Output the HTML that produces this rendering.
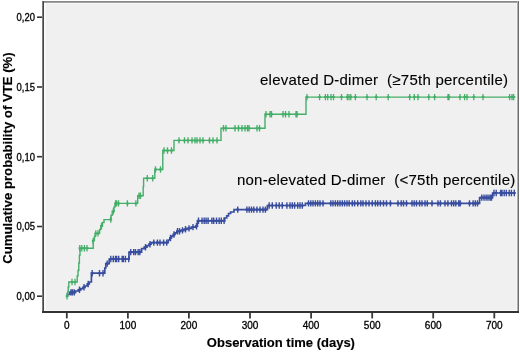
<!DOCTYPE html>
<html><head><meta charset="utf-8"><style>
html,body{margin:0;padding:0;background:#fff;width:520px;height:352px;overflow:hidden}
svg{display:block;will-change:transform;font-family:"Liberation Sans",sans-serif;fill:#111}
text{fill:#000;stroke:#000;stroke-width:0.3px}
.lg{stroke-width:0.12px}
.b{stroke-width:0.15px}
</style></head><body>
<svg width="520" height="352" viewBox="0 0 520 352"><rect x="0" y="0" width="520" height="352" fill="#ffffff"/><g shape-rendering="crispEdges"><rect x="44" y="3" width="473" height="308" fill="#f8f8f8"/><rect x="46" y="4" width="470" height="306" fill="#f0f0f0"/><rect x="42" y="1" width="477" height="1" fill="#8a8a8a"/><rect x="42" y="2" width="477" height="1" fill="#a0a0a0"/><rect x="517" y="1" width="1" height="312" fill="#adadad"/><rect x="518" y="1" width="1" height="312" fill="#6e6e6e"/><rect x="42" y="1" width="1" height="312" fill="#7a7a7a"/><rect x="43" y="1" width="1" height="312" fill="#484848"/><rect x="42" y="311" width="477" height="2" fill="#333333"/></g><path d="M37,296.2 H42" stroke="#333" stroke-width="1.6"/><path d="M37,226.5 H42" stroke="#333" stroke-width="1.6"/><path d="M37,156.7 H42" stroke="#333" stroke-width="1.6"/><path d="M37,87.0 H42" stroke="#333" stroke-width="1.6"/><path d="M37,17.2 H42" stroke="#333" stroke-width="1.6"/><path d="M66.8,313 V318.4" stroke="#3a3a3a" stroke-width="1.8"/><path d="M127.9,313 V318.4" stroke="#3a3a3a" stroke-width="1.8"/><path d="M188.9,313 V318.4" stroke="#3a3a3a" stroke-width="1.8"/><path d="M250.0,313 V318.4" stroke="#3a3a3a" stroke-width="1.8"/><path d="M311.1,313 V318.4" stroke="#3a3a3a" stroke-width="1.8"/><path d="M372.2,313 V318.4" stroke="#3a3a3a" stroke-width="1.8"/><path d="M433.2,313 V318.4" stroke="#3a3a3a" stroke-width="1.8"/><path d="M494.3,313 V318.4" stroke="#3a3a3a" stroke-width="1.8"/><text x="35" y="300.1" text-anchor="end" font-size="10" textLength="18.4" lengthAdjust="spacingAndGlyphs">0,00</text><text x="35" y="230.4" text-anchor="end" font-size="10" textLength="18.4" lengthAdjust="spacingAndGlyphs">0,05</text><text x="35" y="160.6" text-anchor="end" font-size="10" textLength="18.4" lengthAdjust="spacingAndGlyphs">0,10</text><text x="35" y="90.9" text-anchor="end" font-size="10" textLength="18.4" lengthAdjust="spacingAndGlyphs">0,15</text><text x="35" y="21.1" text-anchor="end" font-size="10" textLength="18.4" lengthAdjust="spacingAndGlyphs">0,20</text><text x="66.8" y="328.8" text-anchor="middle" font-size="10">0</text><text x="127.9" y="328.8" text-anchor="middle" font-size="10">100</text><text x="188.9" y="328.8" text-anchor="middle" font-size="10">200</text><text x="250.0" y="328.8" text-anchor="middle" font-size="10">300</text><text x="311.1" y="328.8" text-anchor="middle" font-size="10">400</text><text x="372.2" y="328.8" text-anchor="middle" font-size="10">500</text><text x="433.2" y="328.8" text-anchor="middle" font-size="10">600</text><text x="494.3" y="328.8" text-anchor="middle" font-size="10">700</text><text class="b" x="280.9" y="347.4" text-anchor="middle" font-size="13" font-weight="bold">Observation time (days)</text><text class="b" transform="translate(11.7,158) rotate(-90)" x="0" y="0" text-anchor="middle" font-size="13.2" font-weight="bold" textLength="211.5" lengthAdjust="spacing">Cumulative probability of VTE (%)</text><text class="lg" x="260" y="85.4" font-size="15" textLength="248" lengthAdjust="spacing" xml:space="preserve">elevated D-dimer  (≥75th percentile)</text><text class="lg" x="237" y="185.3" font-size="15" textLength="278.2" lengthAdjust="spacing" xml:space="preserve">non-elevated D-dimer  (&lt;75th percentile)</text><path d="M66.6,296.2 L67.4,296.2 L67.4,294.5 L69.7,294.5 L69.7,292.4 L75.6,292.4 L75.6,291.0 L78.2,291.0 L78.2,289.8 L80.8,289.8 L80.8,288.6 L83.0,288.6 L83.0,287.3 L85.0,287.3 L85.0,286.0 L87.2,286.0 L87.2,284.0 L89.3,284.0 L89.3,282.0 L91.4,282.0 L91.4,273.2 L104.8,273.2 L104.8,268.0 L105.8,268.0 L105.8,263.6 L109.2,263.6 L109.2,259.0 L129.0,259.0 L129.0,252.1 L141.6,252.1 L141.6,248.6 L144.2,248.6 L144.2,247.2 L147.0,247.2 L147.0,245.6 L149.0,245.6 L149.0,244.2 L151.0,244.2 L151.0,242.6 L168.2,242.6 L168.2,240.0 L169.9,240.0 L169.9,238.0 L171.5,238.0 L171.5,236.2 L173.3,236.2 L173.3,234.5 L175.0,234.5 L175.0,232.8 L176.8,232.8 L176.8,231.3 L180.5,231.3 L180.5,230.4 L184.0,230.4 L184.0,229.3 L187.0,229.3 L187.0,228.4 L191.4,228.4 L191.4,227.1 L195.6,227.1 L195.6,226.2 L197.4,226.2 L197.4,220.8 L224.6,220.8 L224.6,218.0 L226.7,218.0 L226.7,215.8 L228.5,215.8 L228.5,213.5 L230.6,213.5 L230.6,212.0 L234.0,212.0 L234.0,209.6 L267.4,209.6 L267.4,205.5 L305.4,205.5 L305.4,203.4 L479.6,203.4 L479.6,197.6 L492.6,197.6 L492.6,193.0 L515.5,193.0" fill="none" stroke="#384d9f" stroke-width="1.7"/><path d="M71.0,289.2v6.4M74.3,289.2v6.4M110.8,255.8v6.4M113.3,255.8v6.4M115.5,255.8v6.4M116.7,255.8v6.4M118.7,255.8v6.4M122.2,255.8v6.4M123.3,255.8v6.4M125.4,255.8v6.4M128.7,255.8v6.4M130.7,248.9v6.4M133.7,248.9v6.4M135.5,248.9v6.4M138.2,248.9v6.4M139.8,248.9v6.4M153.8,239.4v6.4M157.4,239.4v6.4M160.0,239.4v6.4M163.6,239.4v6.4M166.7,239.4v6.4M170.5,234.8v6.4M174.0,231.3v6.4M177.5,228.1v6.4M179.5,228.1v6.4M182.5,227.2v6.4M185.5,226.1v6.4M189.0,225.2v6.4M193.0,223.9v6.4M196.5,223.0v6.4M145.5,244.0v6.4M150.0,241.0v6.4M198.5,217.6v6.4M202.0,217.6v6.4M204.2,217.6v6.4M206.1,217.6v6.4M208.1,217.6v6.4M211.9,217.6v6.4M213.7,217.6v6.4M216.5,217.6v6.4M219.2,217.6v6.4M221.3,217.6v6.4M224.1,217.6v6.4M237.7,206.4v6.4M246.9,206.4v6.4M249.2,206.4v6.4M251.5,206.4v6.4M253.8,206.4v6.4M256.9,206.4v6.4M260.0,206.4v6.4M263.0,206.4v6.4M265.4,206.4v6.4M269.2,202.3v6.4M272.3,202.3v6.4M276.2,202.3v6.4M279.2,202.3v6.4M282.3,202.3v6.4M286.9,202.3v6.4M290.0,202.3v6.4M292.3,202.3v6.4M294.6,202.3v6.4M297.7,202.3v6.4M300.0,202.3v6.4M302.3,202.3v6.4M308.5,200.2v6.4M310.8,200.2v6.4M313.0,200.2v6.4M315.4,200.2v6.4M317.7,200.2v6.4M320.0,200.2v6.4M323.0,200.2v6.4M330.8,200.2v6.4M333.0,200.2v6.4M335.4,200.2v6.4M337.7,200.2v6.4M340.0,200.2v6.4M342.3,200.2v6.4M344.6,200.2v6.4M347.0,200.2v6.4M349.2,200.2v6.4M352.3,200.2v6.4M354.6,200.2v6.4M357.7,200.2v6.4M360.8,200.2v6.4M363.0,200.2v6.4M366.0,200.2v6.4M369.0,200.2v6.4M372.3,200.2v6.4M375.4,200.2v6.4M377.7,200.2v6.4M380.4,200.2v6.4M383.5,200.2v6.4M386.5,200.2v6.4M390.4,200.2v6.4M398.0,200.2v6.4M401.2,200.2v6.4M403.5,200.2v6.4M406.5,200.2v6.4M412.0,200.2v6.4M414.2,200.2v6.4M416.5,200.2v6.4M419.6,200.2v6.4M422.0,200.2v6.4M425.0,200.2v6.4M427.3,200.2v6.4M432.0,200.2v6.4M438.0,200.2v6.4M440.4,200.2v6.4M445.0,200.2v6.4M447.9,200.2v6.4M451.5,200.2v6.4M453.7,200.2v6.4M455.8,200.2v6.4M458.7,200.2v6.4M460.2,200.2v6.4M469.5,200.2v6.4M473.1,200.2v6.4M475.3,200.2v6.4M477.5,200.2v6.4M481.8,194.4v6.4M484.0,194.4v6.4M486.1,194.4v6.4M488.0,194.4v6.4M490.0,194.4v6.4M491.5,194.4v6.4M494.0,189.8v6.4M496.2,189.8v6.4M500.6,189.8v6.4M502.0,189.8v6.4M504.2,189.8v6.4M506.3,189.8v6.4M509.2,189.8v6.4M511.4,189.8v6.4M514.3,189.8v6.4M72.5,289.2v6.4M79.5,286.6v6.4M84.0,284.1v6.4M88.2,280.8v6.4M92.2,270.0v6.4M99.5,270.0v6.4M103.0,270.0v6.4M107.2,260.4v6.4" fill="none" stroke="#384d9f" stroke-width="1.4"/><path d="M69.7,292.4h2.6M73.0,292.4h2.6M109.5,259.0h2.6M112.0,259.0h2.6M114.2,259.0h2.6M115.4,259.0h2.6M117.4,259.0h2.6M120.9,259.0h2.6M122.0,259.0h2.6M124.1,259.0h2.6M127.4,259.0h2.6M129.4,252.1h2.6M132.4,252.1h2.6M134.2,252.1h2.6M136.9,252.1h2.6M138.5,252.1h2.6M152.5,242.6h2.6M156.1,242.6h2.6M158.7,242.6h2.6M162.3,242.6h2.6M165.4,242.6h2.6M169.2,238.0h2.6M172.7,234.5h2.6M176.2,231.3h2.6M178.2,231.3h2.6M181.2,230.4h2.6M184.2,229.3h2.6M187.7,228.4h2.6M191.7,227.1h2.6M195.2,226.2h2.6M144.2,247.2h2.6M148.7,244.2h2.6M197.2,220.8h2.6M200.7,220.8h2.6M202.9,220.8h2.6M204.8,220.8h2.6M206.8,220.8h2.6M210.6,220.8h2.6M212.4,220.8h2.6M215.2,220.8h2.6M217.9,220.8h2.6M220.0,220.8h2.6M222.8,220.8h2.6M236.4,209.6h2.6M245.6,209.6h2.6M247.9,209.6h2.6M250.2,209.6h2.6M252.5,209.6h2.6M255.6,209.6h2.6M258.7,209.6h2.6M261.7,209.6h2.6M264.1,209.6h2.6M267.9,205.5h2.6M271.0,205.5h2.6M274.9,205.5h2.6M277.9,205.5h2.6M281.0,205.5h2.6M285.6,205.5h2.6M288.7,205.5h2.6M291.0,205.5h2.6M293.3,205.5h2.6M296.4,205.5h2.6M298.7,205.5h2.6M301.0,205.5h2.6M307.2,203.4h2.6M309.5,203.4h2.6M311.7,203.4h2.6M314.1,203.4h2.6M316.4,203.4h2.6M318.7,203.4h2.6M321.7,203.4h2.6M329.5,203.4h2.6M331.7,203.4h2.6M334.1,203.4h2.6M336.4,203.4h2.6M338.7,203.4h2.6M341.0,203.4h2.6M343.3,203.4h2.6M345.7,203.4h2.6M347.9,203.4h2.6M351.0,203.4h2.6M353.3,203.4h2.6M356.4,203.4h2.6M359.5,203.4h2.6M361.7,203.4h2.6M364.7,203.4h2.6M367.7,203.4h2.6M371.0,203.4h2.6M374.1,203.4h2.6M376.4,203.4h2.6M379.1,203.4h2.6M382.2,203.4h2.6M385.2,203.4h2.6M389.1,203.4h2.6M396.7,203.4h2.6M399.9,203.4h2.6M402.2,203.4h2.6M405.2,203.4h2.6M410.7,203.4h2.6M412.9,203.4h2.6M415.2,203.4h2.6M418.3,203.4h2.6M420.7,203.4h2.6M423.7,203.4h2.6M426.0,203.4h2.6M430.7,203.4h2.6M436.7,203.4h2.6M439.1,203.4h2.6M443.7,203.4h2.6M446.6,203.4h2.6M450.2,203.4h2.6M452.4,203.4h2.6M454.5,203.4h2.6M457.4,203.4h2.6M458.9,203.4h2.6M468.2,203.4h2.6M471.8,203.4h2.6M474.0,203.4h2.6M476.2,203.4h2.6M480.5,197.6h2.6M482.7,197.6h2.6M484.8,197.6h2.6M486.7,197.6h2.6M488.7,197.6h2.6M490.2,197.6h2.6M492.7,193.0h2.6M494.9,193.0h2.6M499.3,193.0h2.6M500.7,193.0h2.6M502.9,193.0h2.6M505.0,193.0h2.6M507.9,193.0h2.6M510.1,193.0h2.6M513.0,193.0h2.6M71.2,292.4h2.6M78.2,289.8h2.6M82.7,287.3h2.6M86.9,284.0h2.6M90.9,273.2h2.6M98.2,273.2h2.6M101.7,273.2h2.6M105.9,263.6h2.6" fill="none" stroke="#384d9f" stroke-width="2.1"/><path d="M66.6,296.2 L67.6,296.2 L67.6,292.0 L68.2,292.0 L68.2,287.0 L68.8,287.0 L68.8,282.0 L77.2,282.0 L77.2,276.0 L78.0,276.0 L78.0,270.5 L78.8,270.5 L78.8,263.0 L79.4,263.0 L79.4,255.3 L80.0,255.3 L80.0,248.2 L93.2,248.2 L93.2,240.3 L94.4,240.3 L94.4,236.5 L95.2,236.5 L95.2,233.4 L99.6,233.4 L99.6,229.5 L100.8,229.5 L100.8,226.0 L102.5,226.0 L102.5,222.5 L104.0,222.5 L104.0,219.6 L111.0,219.6 L111.0,215.2 L112.2,215.2 L112.2,211.3 L114.0,211.3 L114.0,207.0 L115.0,207.0 L115.0,203.4 L137.7,203.4 L137.7,195.8 L143.2,195.8 L143.2,186.5 L143.6,186.5 L143.6,178.3 L154.8,178.3 L154.8,169.5 L162.8,169.5 L162.8,150.5 L174.0,150.5 L174.0,140.4 L221.0,140.4 L221.0,128.3 L265.0,128.3 L265.0,114.2 L306.0,114.2 L306.0,97.1 L515.5,97.1" fill="none" stroke="#45ae68" stroke-width="1.4"/><path d="M67.0,293.0v6.4M72.0,278.8v6.4M75.0,278.8v6.4M79.8,245.0v6.4M81.8,245.0v6.4M84.4,245.0v6.4M87.0,245.0v6.4M93.2,237.8v6.4M95.8,230.2v6.4M98.0,230.2v6.4M101.5,222.8v6.4M110.8,216.4v6.4M113.4,208.1v6.4M115.6,200.2v6.4M116.6,200.2v6.4M118.5,200.2v6.4M127.4,200.2v6.4M135.9,200.2v6.4M139.0,192.6v6.4M140.5,192.6v6.4M147.3,175.1v6.4M152.7,175.1v6.4M155.5,166.3v6.4M160.5,166.3v6.4M164.0,147.3v6.4M167.5,147.3v6.4M171.5,147.3v6.4M179.0,137.2v6.4M184.5,137.2v6.4M188.0,137.2v6.4M192.0,137.2v6.4M195.0,137.2v6.4M197.0,137.2v6.4M200.0,137.2v6.4M203.0,137.2v6.4M209.5,137.2v6.4M213.0,137.2v6.4M217.0,137.2v6.4M223.5,125.1v6.4M226.0,125.1v6.4M235.0,125.1v6.4M238.5,125.1v6.4M242.0,125.1v6.4M245.0,125.1v6.4M247.5,125.1v6.4M249.0,125.1v6.4M257.0,125.1v6.4M259.5,125.1v6.4M266.0,111.0v6.4M270.0,111.0v6.4M271.5,111.0v6.4M283.0,111.0v6.4M285.5,111.0v6.4M289.0,111.0v6.4M296.0,111.0v6.4M297.0,111.0v6.4M307.0,93.9v6.4M319.6,93.9v6.4M325.4,93.9v6.4M327.7,93.9v6.4M331.0,93.9v6.4M333.5,93.9v6.4M341.5,93.9v6.4M347.3,93.9v6.4M349.0,93.9v6.4M350.8,93.9v6.4M355.4,93.9v6.4M367.0,93.9v6.4M376.2,93.9v6.4M388.2,93.9v6.4M409.7,93.9v6.4M414.3,93.9v6.4M418.0,93.9v6.4M428.8,93.9v6.4M434.6,93.9v6.4M448.0,93.9v6.4M449.0,93.9v6.4M460.0,93.9v6.4M464.6,93.9v6.4M467.0,93.9v6.4M473.8,93.9v6.4M483.0,93.9v6.4M509.6,93.9v6.4M512.0,93.9v6.4M513.6,93.9v6.4" fill="none" stroke="#45ae68" stroke-width="1.3"/><path d="M65.7,296.2h2.6M70.7,282.0h2.6M73.7,282.0h2.6M78.5,248.2h2.6M80.5,248.2h2.6M83.1,248.2h2.6M85.7,248.2h2.6M91.9,241.0h2.6M94.5,233.4h2.6M96.7,233.4h2.6M100.2,226.0h2.6M109.5,219.6h2.6M112.1,211.3h2.6M114.3,203.4h2.6M115.3,203.4h2.6M117.2,203.4h2.6M126.1,203.4h2.6M134.6,203.4h2.6M137.7,195.8h2.6M139.2,195.8h2.6M146.0,178.3h2.6M151.4,178.3h2.6M154.2,169.5h2.6M159.2,169.5h2.6M162.7,150.5h2.6M166.2,150.5h2.6M170.2,150.5h2.6M177.7,140.4h2.6M183.2,140.4h2.6M186.7,140.4h2.6M190.7,140.4h2.6M193.7,140.4h2.6M195.7,140.4h2.6M198.7,140.4h2.6M201.7,140.4h2.6M208.2,140.4h2.6M211.7,140.4h2.6M215.7,140.4h2.6M222.2,128.3h2.6M224.7,128.3h2.6M233.7,128.3h2.6M237.2,128.3h2.6M240.7,128.3h2.6M243.7,128.3h2.6M246.2,128.3h2.6M247.7,128.3h2.6M255.7,128.3h2.6M258.2,128.3h2.6M264.7,114.2h2.6M268.7,114.2h2.6M270.2,114.2h2.6M281.7,114.2h2.6M284.2,114.2h2.6M287.7,114.2h2.6M294.7,114.2h2.6M295.7,114.2h2.6M305.7,97.1h2.6M318.3,97.1h2.6M324.1,97.1h2.6M326.4,97.1h2.6M329.7,97.1h2.6M332.2,97.1h2.6M340.2,97.1h2.6M346.0,97.1h2.6M347.7,97.1h2.6M349.5,97.1h2.6M354.1,97.1h2.6M365.7,97.1h2.6M374.9,97.1h2.6M386.9,97.1h2.6M408.4,97.1h2.6M413.0,97.1h2.6M416.7,97.1h2.6M427.5,97.1h2.6M433.3,97.1h2.6M446.7,97.1h2.6M447.7,97.1h2.6M458.7,97.1h2.6M463.3,97.1h2.6M465.7,97.1h2.6M472.5,97.1h2.6M481.7,97.1h2.6M508.3,97.1h2.6M510.7,97.1h2.6M512.3,97.1h2.6" fill="none" stroke="#45ae68" stroke-width="2.0"/></svg>
</body></html>
